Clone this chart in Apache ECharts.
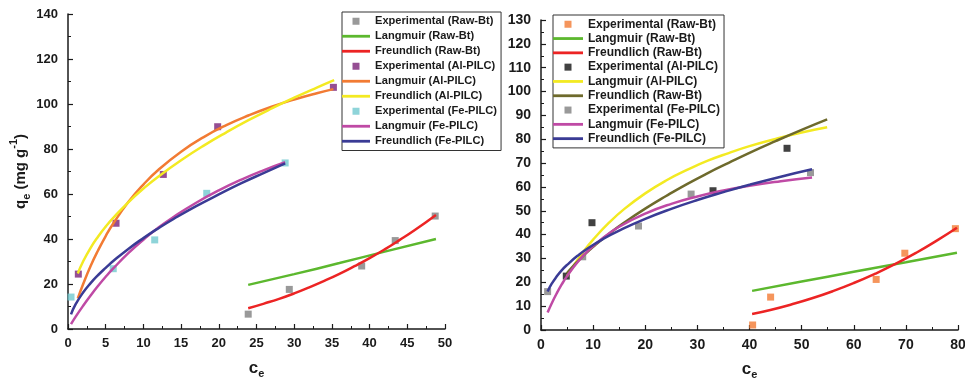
<!DOCTYPE html>
<html>
<head>
<meta charset="utf-8">
<script src="https://cdn.jsdelivr.net/npm/echarts@6/dist/echarts.min.js"></script>
<style>
  html, body { margin: 0; padding: 0; background: #fff; }
  #chart { width: 965px; height: 383px; }
</style>
</head>
<body>
<div id="chart"></div>
<script>
// ---- left panel (x 0-50) ----
const leftRawExp = [[23.9, 6.6], [29.35, 17.6], [38.95, 28.0], [43.4, 39.3], [48.7, 50.2]]
const leftRawLangmuir = [[23.9, 19.6], [30, 24.4], [36, 29.3], [42, 34.4], [48.8, 40.0]]
const leftRawFreundlich = [[23.9, 9.2], [26, 11.3], [28, 13.4], [30, 15.8], [32, 18.5], [34, 21.4], [36, 24.5],
  [38, 27.9], [40, 31.5], [42, 35.4], [44, 39.6], [46, 44.0], [48.8, 50.7]]
const leftAlExp = [[1.37, 24.4], [6.37, 47.0], [12.64, 68.7], [19.85, 89.9], [35.2, 107.4]]
const leftAlLangmuir = [[1.3, 13.6], [2, 19.9], [3, 28.0], [4, 35.0], [5, 41.3], [6, 46.9], [8, 56.4], [10, 64.2],
  [12, 70.8], [15, 78.8], [18, 85.3], [21, 90.6], [24, 95.0], [27, 98.8], [30, 102.0], [33, 104.8], [35.2, 106.6]]
const leftAlFreundlich = [[1.3, 24.7], [2, 30.0], [3, 36.1], [4, 41.1], [5, 45.5], [6, 49.4], [8, 56.3], [10, 62.4],
  [12, 67.8], [15, 75.0], [18, 81.5], [21, 87.4], [24, 92.9], [27, 98.0], [30, 102.8], [33, 107.3], [35.3, 110.6]]
const leftFeExp = [[0.4, 14.2], [6.0, 26.8], [11.5, 39.6], [18.4, 60.3], [28.8, 73.8]]
const leftFeLangmuir = [[0.4, 2.2], [1, 5.4], [2, 10.3], [3, 14.9], [4, 19.2], [5, 23.2], [6, 26.9], [8, 33.7],
  [10, 39.7], [12, 45.1], [14, 49.8], [17, 56.1], [20, 61.6], [23, 66.4], [26, 70.6], [28.8, 74.1]]
const leftFeFreundlich = [[0.4, 6.5], [1, 10.9], [2, 16.2], [3, 20.4], [4, 24.0], [5, 27.2], [6, 30.2], [8, 35.6],
  [10, 40.4], [12, 44.8], [14, 48.9], [17, 54.6], [20, 59.8], [23, 64.8], [26, 69.4], [28.8, 73.6]]

// ---- right panel (x 0-80) ----
const rightRawExp = [[40.6, 2.1], [44.05, 13.8], [64.3, 21.2], [69.8, 32.2], [79.5, 42.5]]
const rightRawLangmuir = [[40.5, 16.4], [50, 20.3], [60, 24.4], [70, 28.4], [79.8, 32.4]]
const rightRawFreundlich = [[40.5, 6.7], [44, 8.4], [48, 10.7], [52, 13.3], [56, 16.3], [60, 19.7], [64, 23.5],
  [68, 27.7], [72, 32.4], [76, 37.6], [79.8, 42.9]]
const rightAlExp = [[4.85, 22.6], [9.78, 45.0], [33.0, 58.4], [47.2, 76.2]]
const rightAlLangmuir = [[4.95, 22.4], [6, 26.1], [8, 32.4], [10, 37.9], [13, 44.9], [16, 50.8], [20, 57.3],
  [24, 62.7], [28, 67.1], [32, 71.0], [36, 74.2], [40, 77.1], [45, 80.1], [50, 82.8], [54.9, 85.0]]
const rightAlFreundlich = [[4.95, 23.8], [6, 26.4], [8, 30.9], [10, 34.9], [13, 40.3], [16, 45.1], [20, 50.9],
  [24, 56.2], [28, 61.2], [32, 65.8], [36, 70.1], [40, 74.3], [45, 79.2], [50, 83.9], [54.9, 88.3]]
const rightFeExp = [[1.27, 16.1], [8.0, 30.7], [18.7, 43.6], [28.8, 57.0], [51.7, 66.0]]
const rightFeLangmuir = [[1.27, 7.3], [2, 10.9], [3, 15.3], [4, 19.2], [5, 22.6], [7, 28.4], [9, 33.2], [12, 38.8],
  [15, 43.3], [20, 48.8], [25, 52.9], [30, 56.0], [35, 58.5], [40, 60.5], [46, 62.4], [52, 64.0]]
const rightFeFreundlich = [[1.27, 16.1], [2, 19.2], [3, 22.4], [4, 25.1], [5, 27.3], [7, 31.1], [9, 34.3], [12, 38.3],
  [15, 41.7], [20, 46.6], [25, 50.8], [30, 54.5], [35, 57.8], [40, 60.9], [46, 64.3], [52, 67.4]]

const leftNames = ['Experimental (Raw-Bt)', 'Langmuir (Raw-Bt)', 'Freundlich (Raw-Bt)',
  'Experimental (Al-PILC)', 'Langmuir (Al-PILC)', 'Freundlich (Al-PILC)',
  'Experimental (Fe-PILC)', 'Langmuir (Fe-PILC)', 'Freundlich (Fe-PILC)']
// the right legend repeats "Freundlich (Raw-Bt)" for the olive curve
const rightNames = ['Experimental (Raw-Bt)', 'Langmuir (Raw-Bt)', 'Freundlich (Raw-Bt)',
  'Experimental (Al-PILC)', 'Langmuir (Al-PILC)', 'Freundlich (Raw-Bt)',
  'Experimental (Fe-PILC)', 'Langmuir (Fe-PILC)', 'Freundlich (Fe-PILC)']

const FONT = 'Liberation Sans, Arial, Helvetica, sans-serif'
const INK = '#1a1a1a'

const chart = echarts.init(document.getElementById('chart'))

// series names must be unique across both legends, the formatter strips the prefix
const key = (side, i) => side + i + ':' + (side === 'L' ? leftNames[i] : rightNames[i])

function scatter(side, i, data, color, grid) {
  return {
    name: key(side, i), type: 'scatter', data, xAxisIndex: grid, yAxisIndex: grid,
    symbol: 'rect', symbolSize: 7, itemStyle: { color }, silent: true
  }
}
function curve(side, i, data, color, grid) {
  return {
    name: key(side, i), type: 'line', data, xAxisIndex: grid, yAxisIndex: grid,
    smooth: true, symbol: 'none', lineStyle: { color, width: 2.5 }, itemStyle: { color }, silent: true
  }
}

function xAxis(grid, max, interval, fontSize) {
  return {
    type: 'value', gridIndex: grid, min: 0, max, interval,
    name: '{c|c}{e|e}', nameLocation: 'middle', nameGap: 28,
    nameTextStyle: {
      rich: {
        c: { fontFamily: FONT, fontWeight: 'bold', fontSize: 17, color: INK, lineHeight: 22, verticalAlign: 'middle' },
        e: { fontFamily: FONT, fontWeight: 'bold', fontSize: 11, color: INK, lineHeight: 22, verticalAlign: 'bottom' }
      }
    },
    axisLine: { lineStyle: { color: INK, width: 1.5 } },
    axisTick: { inside: true, length: 5, lineStyle: { color: INK, width: 1.2 } },
    minorTick: { show: true, splitNumber: 2, length: 3, lineStyle: { color: INK, width: 1 } },
    axisLabel: { fontFamily: FONT, fontWeight: 'bold', fontSize, color: INK, margin: 8 },
    splitLine: { show: false }
  }
}
function yAxis(grid, max, interval, fontSize, withName) {
  const ax = {
    type: 'value', gridIndex: grid, min: 0, max, interval,
    axisLine: { show: true, lineStyle: { color: INK, width: 1.5 } },
    axisTick: { inside: true, length: 5, lineStyle: { color: INK, width: 1.2 } },
    minorTick: { show: true, splitNumber: 2, length: 3, lineStyle: { color: INK, width: 1 } },
    axisLabel: { fontFamily: FONT, fontWeight: 'bold', fontSize, color: INK, margin: 10 },
    splitLine: { show: false }
  }
  if (withName) {
    Object.assign(ax, {
      name: '{a|q}{s|e}{a| (mg g}{p|-1}{a|)}', nameLocation: 'middle', nameGap: 32, nameRotate: 90,
      nameTextStyle: {
        rich: {
          a: { fontFamily: FONT, fontWeight: 'bold', fontSize: 15, color: INK, lineHeight: 24, verticalAlign: 'middle' },
          s: { fontFamily: FONT, fontWeight: 'bold', fontSize: 11, color: INK, lineHeight: 24, verticalAlign: 'bottom' },
          p: { fontFamily: FONT, fontWeight: 'bold', fontSize: 11, color: INK, lineHeight: 24, verticalAlign: 'top' }
        }
      }
    })
  }
  return ax
}

const squareIcon = 'path://M0,0h10v10h-10z'
function legend(side, left, top, itemWidth, itemGap, fontSize, names) {
  // thin bar path for the fitted curves, keeps its aspect inside the icon box
  const lineIcon = 'path://M0,0h' + itemWidth * 10 + 'v28h-' + itemWidth * 10 + 'z'
  return {
    orient: 'vertical', left, top, itemWidth, itemHeight: 7, itemGap,
    padding: [3, 4, 3, 0], borderColor: '#333', borderWidth: 1, backgroundColor: '#fff',
    symbolKeepAspect: true, selectedMode: false,
    data: names.map((n, i) => ({ name: key(side, i), icon: n.startsWith('Experimental') ? squareIcon : lineIcon })),
    formatter: n => n.replace(/^[LR]\d:/, ''),
    textStyle: { fontFamily: FONT, fontWeight: 'bold', fontSize, color: INK, lineHeight: 12.5 }
  }
}

const option = {
  animation: false,
  backgroundColor: '#fff',
  grid: [
    { left: 68, top: 14, width: 377, height: 315, outerBoundsMode: 'none', containLabel: false },
    { left: 541, top: 20, width: 417, height: 310, outerBoundsMode: 'none', containLabel: false }
  ],
  xAxis: [xAxis(0, 50, 5, 13), xAxis(1, 80, 10, 14)],
  yAxis: [yAxis(0, 140, 20, 13, true), yAxis(1, 130, 10, 14, false)],
  legend: [
    legend('L', 342, 12, 28, 2.5, 11.1, leftNames),
    legend('R', 553, 15, 30, 1.8, 12, rightNames)
  ],
  series: [
    scatter('L', 0, leftRawExp, '#7f7f7f', 0),
    curve('L', 1, leftRawLangmuir, '#5cb82e', 0),
    curve('L', 2, leftRawFreundlich, '#ec2424', 0),
    scatter('L', 3, leftAlExp, '#7a2278', 0),
    curve('L', 4, leftAlLangmuir, '#f27b33', 0),
    curve('L', 5, leftAlFreundlich, '#f3ea22', 0),
    scatter('L', 6, leftFeExp, '#72c9d0', 0),
    curve('L', 7, leftFeLangmuir, '#bf4aa5', 0),
    curve('L', 8, leftFeFreundlich, '#3a3b95', 0),

    scatter('R', 0, rightRawExp, '#f27b33', 1),
    curve('R', 1, rightRawLangmuir, '#5cb82e', 1),
    curve('R', 2, rightRawFreundlich, '#ec2424', 1),
    scatter('R', 3, rightAlExp, '#111111', 1),
    curve('R', 4, rightAlLangmuir, '#f3ea22', 1),
    curve('R', 5, rightAlFreundlich, '#6e6a2c', 1),
    scatter('R', 6, rightFeExp, '#808080', 1),
    curve('R', 7, rightFeLangmuir, '#bf4aa5', 1),
    curve('R', 8, rightFeFreundlich, '#3a3b95', 1)
  ]
}

chart.setOption(option)
window.addEventListener('resize', () => chart.resize())
</script>
</body>
</html>
